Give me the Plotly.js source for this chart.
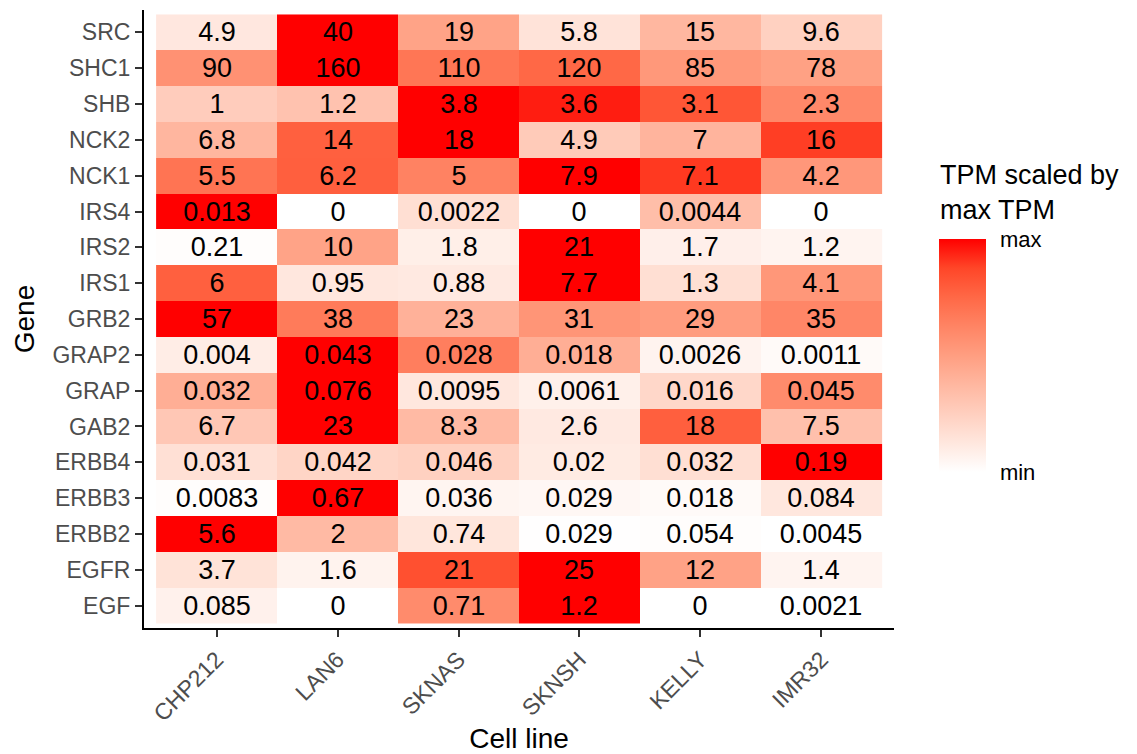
<!DOCTYPE html>
<html>
<head>
<meta charset="utf-8">
<script src="https://cdn.plot.ly/plotly-3.0.1.min.js"></script>
<style>html,body{margin:0;padding:0;background:#fff;}#chart{width:1137px;height:754px;}</style>
</head>
<body>
<div id="chart"></div>
<script>
// Cell lines (x categories)
const cellLines = ["CHP212", "LAN6", "SKNAS", "SKNSH", "KELLY", "IMR32"];
// Genes, bottom to top
const genes = ["EGF", "EGFR", "ERBB2", "ERBB3", "ERBB4", "GAB2", "GRAP", "GRAP2", "GRB2",
               "IRS1", "IRS2", "IRS4", "NCK1", "NCK2", "SHB", "SHC1", "SRC"];
// TPM values per gene (same order as genes), one value per cell line
const EGF   = [0.085, 0, 0.71, 1.2, 0, 0.0021];
const EGFR  = [3.7, 1.6, 21, 25, 12, 1.4];
const ERBB2 = [5.6, 2, 0.74, 0.029, 0.054, 0.0045];
const ERBB3 = [0.0083, 0.67, 0.036, 0.029, 0.018, 0.084];
const ERBB4 = [0.031, 0.042, 0.046, 0.02, 0.032, 0.19];
const GAB2  = [6.7, 23, 8.3, 2.6, 18, 7.5];
const GRAP  = [0.032, 0.076, 0.0095, 0.0061, 0.016, 0.045];
const GRAP2 = [0.004, 0.043, 0.028, 0.018, 0.0026, 0.0011];
const GRB2  = [57, 38, 23, 31, 29, 35];
const IRS1  = [6, 0.95, 0.88, 7.7, 1.3, 4.1];
const IRS2  = [0.21, 10, 1.8, 21, 1.7, 1.2];
const IRS4  = [0.013, 0, 0.0022, 0, 0.0044, 0];
const NCK1  = [5.5, 6.2, 5, 7.9, 7.1, 4.2];
const NCK2  = [6.8, 14, 18, 4.9, 7, 16];
const SHB   = [1, 1.2, 3.8, 3.6, 3.1, 2.3];
const SHC1  = [90, 160, 110, 120, 85, 78];
const SRC   = [4.9, 40, 19, 5.8, 15, 9.6];

const tpm = [EGF, EGFR, ERBB2, ERBB3, ERBB4, GAB2, GRAP, GRAP2, GRB2,
             IRS1, IRS2, IRS4, NCK1, NCK2, SHB, SHC1, SRC];

// scale each gene by its max TPM
const z = tpm.map(row => { const m = Math.max(...row); return row.map(v => m > 0 ? v / m : 0); });
const txt = tpm.map(row => row.map(v => String(v)));

const colorscale = [
  [0, 'rgb(255,255,255)'], [0.125, 'rgb(255,231,222)'], [0.25, 'rgb(255,207,191)'],
  [0.375, 'rgb(255,183,160)'], [0.5, 'rgb(255,158,129)'], [0.625, 'rgb(255,132,100)'],
  [0.75, 'rgb(255,104,70)'], [0.875, 'rgb(255,70,40)'], [1, 'rgb(255,0,0)']
];

const FONT = 'Liberation Sans, Arial, Helvetica, sans-serif';

const trace = {
  type: 'heatmap',
  x: cellLines,
  y: genes,
  z: z,
  text: txt,
  texttemplate: '%{text}',
  textfont: {family: FONT, size: 27, color: '#000'},
  colorscale: colorscale,
  zmin: 0, zmax: 1,
  hoverinfo: 'skip',
  colorbar: {
    x: 1.06, xanchor: 'left', xpad: 0,
    y: 0.6294, yanchor: 'top', ypad: 0,
    len: 233, lenmode: 'pixels',
    thickness: 47, thicknessmode: 'pixels',
    outlinewidth: 0,
    tickvals: [0, 1], ticktext: ['min', 'max'],
    ticks: 'outside', ticklen: 10, tickcolor: 'rgba(0,0,0,0)',
    tickfont: {family: FONT, size: 22, color: '#000'}
  }
};

const layout = {
  width: 1137, height: 754,
  margin: {l: 144, r: 243, t: 10, b: 126},
  paper_bgcolor: '#fff', plot_bgcolor: '#fff',
  font: {family: FONT},
  xaxis: {
    type: 'category', range: [-0.6, 5.6], fixedrange: true,
    showline: true, linecolor: '#000', linewidth: 2,
    ticks: 'outside', ticklen: 7, tickwidth: 2, tickcolor: '#333',
    tickangle: -45, tickfont: {family: FONT, size: 23, color: '#4D4D4D'},
    showgrid: false, zeroline: false,
    title: {text: 'Cell line', font: {family: FONT, size: 28, color: '#000'}, standoff: 12},
    automargin: false
  },
  yaxis: {
    type: 'category', range: [-0.625, 16.625], fixedrange: true,
    showline: true, linecolor: '#000', linewidth: 2,
    ticks: 'outside', ticklen: 7, tickwidth: 2, tickcolor: '#333',
    tickfont: {family: FONT, size: 23, color: '#4D4D4D'},
    showgrid: false, zeroline: false,
    title: {text: 'Gene', font: {family: FONT, size: 28, color: '#000'}, standoff: 10},
    automargin: false
  },
  annotations: [{
    xref: 'paper', yref: 'paper', x: 1.06, y: 0.7595,
    xanchor: 'left', yanchor: 'top', align: 'left', showarrow: false,
    borderpad: 0,
    text: 'TPM scaled by<br>max TPM',
    font: {family: FONT, size: 27, color: '#000'}
  }]
};

Plotly.newPlot('chart', [trace], layout, {displayModeBar: false, staticPlot: true});
</script>
</body>
</html>
